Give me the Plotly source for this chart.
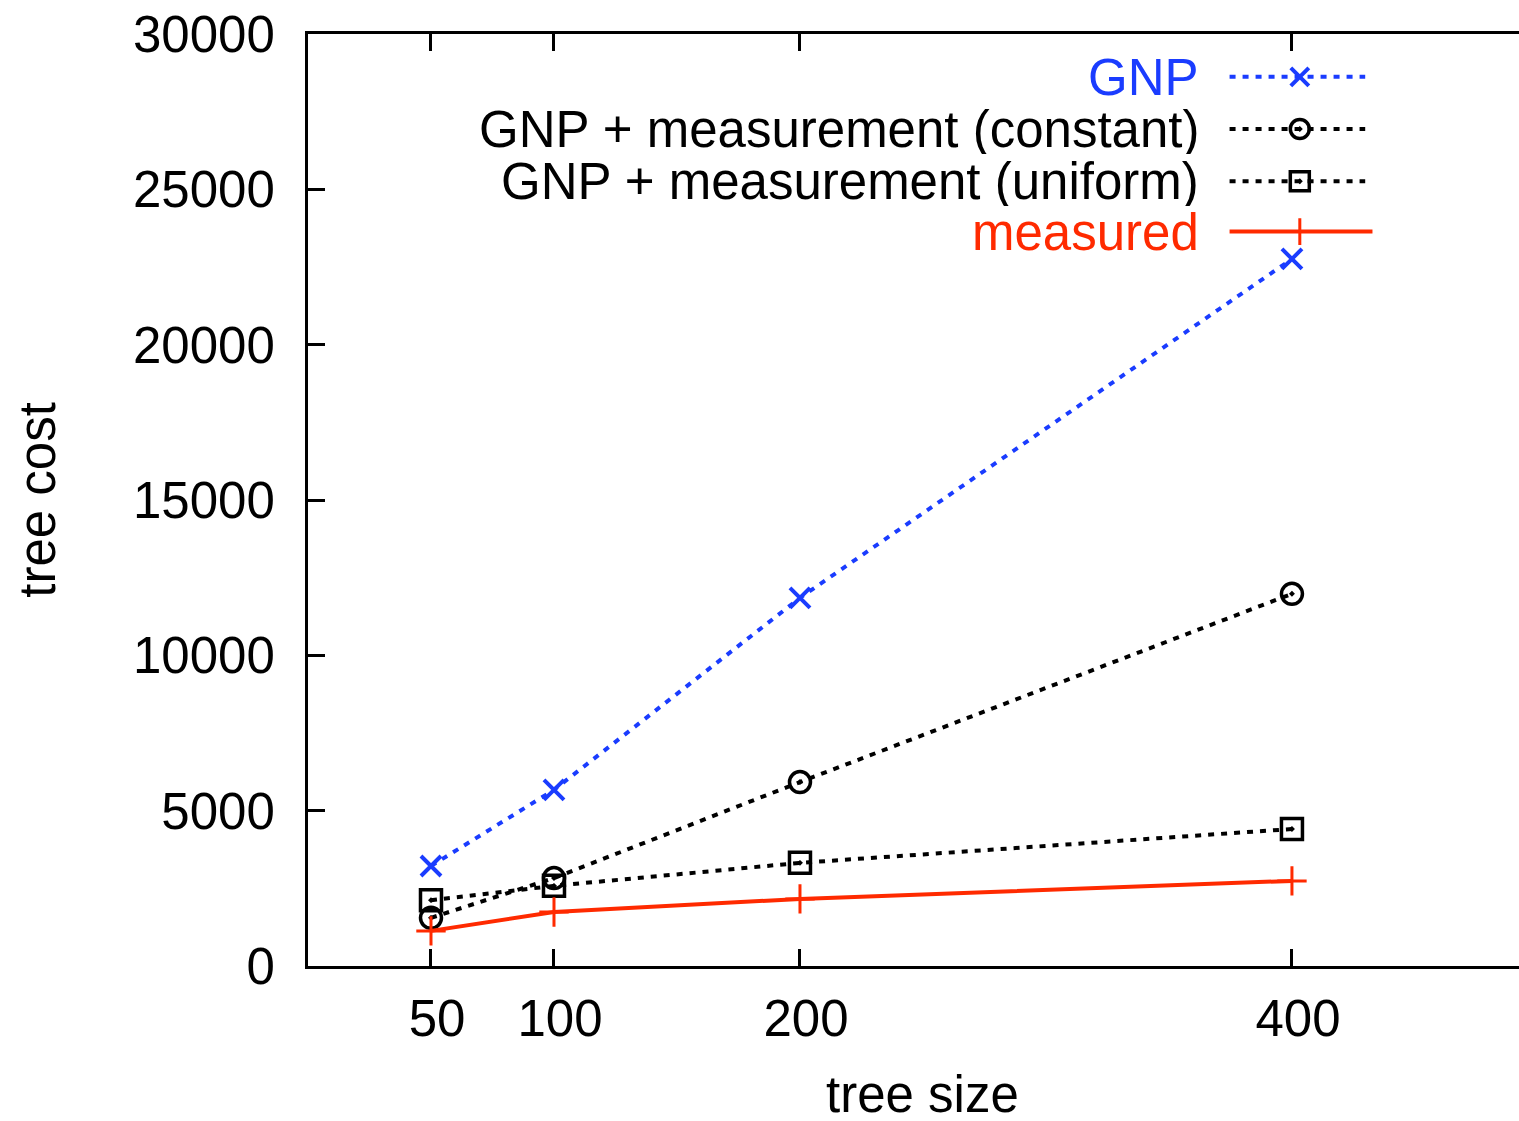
import plotly.graph_objects as go

tree_size = [50, 100, 200, 400]
gnp = [3220, 5670, 11850, 22760]
gnp_constant = [1550, 2830, 5920, 11980]
gnp_uniform = [2120, 2580, 3320, 4410]
measured = [1130, 1740, 2160, 2740]

x_ticks = [50, 100, 200, 400]
y_ticks = [0, 5000, 10000, 15000, 20000, 25000, 30000]

names = ["GNP", "GNP + measurement (constant)", "GNP + measurement (uniform)", "measured"]
colors = ["#1a3cff", "#000000", "#000000", "#ff2a00"]

FONT = "Liberation Sans, Arial, Helvetica, sans-serif"
FS = 51

series = [gnp, gnp_constant, gnp_uniform, measured]
symbols = ["x-thin-open", "circle-open-dot", "square-open-dot", "cross-thin-open"]
dashes = ["6px,7px", "6px,7px", "6px,7px", "solid"]
sizes = [20, 21, 21, 21]
mlw = [4, 3.5, 3.5, 3]

fig = go.Figure()
for vals, nm, c, sym, d, sz, lw in zip(series, names, colors, symbols, dashes, sizes, mlw):
    fig.add_trace(go.Scatter(
        x=tree_size, y=vals, name=nm, mode="lines+markers",
        line=dict(color=c, width=4, dash=d),
        marker=dict(symbol=sym, size=sz, color=c, line=dict(color=c, width=lw)),
        showlegend=False, cliponaxis=False,
    ))

# custom legend (text left of sample) on an auxiliary 0..1 axis
leg_y = [0.954, 0.898, 0.842, 0.788]
leg_x0, leg_xm, leg_x1 = 0.761, 0.819, 0.873
for i, (nm, c, sym, d, sz, lw) in enumerate(zip(names, colors, symbols, dashes, sizes, mlw)):
    x1 = leg_x1 + (0.006 if i == 3 else 0)
    fig.add_trace(go.Scatter(
        x=[leg_x0, leg_xm, x1], y=[leg_y[i]] * 3, mode="lines",
        line=dict(color=c, width=4, dash=d), xaxis="x2", yaxis="y2",
        showlegend=False, hoverinfo="skip",
    ))
    fig.add_trace(go.Scatter(
        x=[leg_xm], y=[leg_y[i]], mode="markers",
        marker=dict(symbol=sym, size=sz - 2, color=c, line=dict(color=c, width=lw)),
        xaxis="x2", yaxis="y2", showlegend=False, hoverinfo="skip",
    ))
    fig.add_annotation(
        x=0.7375, y=leg_y[i], xref="x2", yref="y2", text=nm, showarrow=False,
        xanchor="right", yanchor="middle", height=50, valign="middle",
        font=dict(family=FONT, size=FS, color=c),
    )

fig.add_annotation(x=250, y=-0.1375, xref="x", yref="paper", text="tree size",
                   showarrow=False, xanchor="center", yanchor="middle",
                   height=50, valign="middle",
                   font=dict(family=FONT, size=FS, color="black"))
fig.add_annotation(x=-0.224, y=15000, xref="paper", yref="y", text="tree cost",
                   showarrow=False, textangle=-90, xanchor="center", yanchor="middle",
                   font=dict(family=FONT, size=FS, color="black"))

fig.update_layout(
    width=1519, height=1121,
    margin=dict(l=308, r=0, t=34, b=155),
    paper_bgcolor="white", plot_bgcolor="white",
    font=dict(family=FONT, size=FS, color="black"),
    xaxis=dict(
        range=[0, 492.3], tickvals=x_ticks, ticktext=[str(v) for v in x_ticks],
        showgrid=False, zeroline=False, showline=True, linecolor="black", linewidth=3,
        mirror="ticks", ticks="inside", ticklen=17, tickwidth=2.5, tickcolor="black",
        ticklabelstandoff=6, ticklabelshift=6,
        tickfont=dict(family=FONT, size=FS, color="black"),
    ),
    yaxis=dict(
        range=[0, 30000], tickvals=y_ticks, ticktext=[str(v) for v in y_ticks],
        showgrid=False, zeroline=False, showline=True, linecolor="black", linewidth=3,
        mirror=False, ticks="inside", ticklen=17, tickwidth=2.5, tickcolor="black",
        ticklabelstandoff=20,
        tickfont=dict(family=FONT, size=FS, color="black"),
    ),
    xaxis2=dict(overlaying="x", range=[0, 1], visible=False, domain=[0, 1]),
    yaxis2=dict(overlaying="y", range=[0, 1], visible=False),
)

fig.write_html("out.html", config={"displayModeBar": False},
               post_script="document.body.style.margin='0';")
